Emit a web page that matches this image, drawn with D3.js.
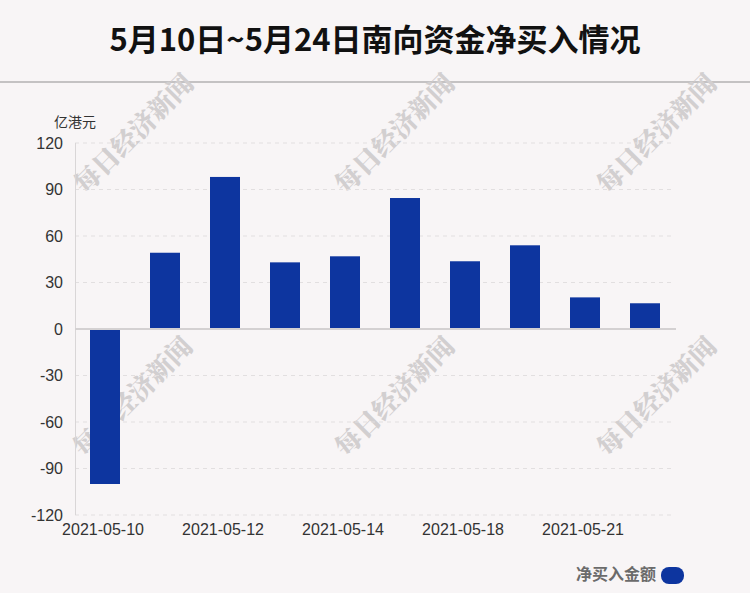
<!DOCTYPE html>
<html>
<head>
<meta charset="utf-8">
<script src="https://cdn.jsdelivr.net/npm/d3@7"></script>
<style>
  html, body { margin: 0; padding: 0; background: #f8f5f6; }
  svg { display: block; }
</style>
</head>
<body>
<svg id="chart" width="750" height="593"></svg>
<script>
const categories = ["2021-05-10","2021-05-11","2021-05-12","2021-05-13","2021-05-14","2021-05-17","2021-05-18","2021-05-20","2021-05-21","2021-05-24"];
const values = [-100.0, 49.2, 98.1, 43.0, 46.9, 84.5, 43.7, 54.0, 20.4, 16.6];
const yTicks = [-120, -90, -60, -30, 0, 30, 60, 90, 120];
const xLabels = ["2021-05-10","2021-05-12","2021-05-14","2021-05-18","2021-05-21"];
const title = "5月10日~5月24日南向资金净买入情况";
const unitLabel = "亿港元";
const legendLabel = "净买入金额";
const watermark = "每日经济新闻";

const W = 750, H = 593;
const svg = d3.select("#chart");

svg.append("rect").attr("width", W).attr("height", H).attr("fill", "#f8f5f6");

// title
svg.append("text")
  .attr("x", W / 2).attr("y", 51)
  .attr("text-anchor", "middle")
  .attr("font-family", "'Noto Sans CJK SC', 'Liberation Sans', sans-serif")
  .attr("font-weight", "bold")
  .attr("font-size", 31)
  .attr("fill", "#111")
  .text(title);

svg.append("line")
  .attr("x1", 0).attr("x2", W).attr("y1", 82).attr("y2", 82)
  .attr("stroke", "#c4c2c3").attr("stroke-width", 2);

const x = d3.scaleBand().domain(categories).range([75, 675]).paddingInner(0.5).paddingOuter(0.25);
const y = d3.scaleLinear().domain([-120, 120]).range([515, 143]);

// watermarks
const wmPos = [[132, 132], [393, 132], [655, 132], [131, 395], [393, 395], [655, 395]];
svg.append("g").selectAll("text").data(wmPos).join("text")
  .attr("transform", d => `translate(${d[0]},${d[1]}) rotate(-45)`)
  .attr("text-anchor", "middle")
  .attr("dominant-baseline", "central")
  .attr("font-family", "'Noto Serif CJK SC', 'Noto Sans CJK SC', serif")
  .attr("font-weight", "900")
  .attr("font-size", 26)
  .attr("fill", "#d2cfd0")
  .text(watermark);

// grid lines
svg.append("g").selectAll("line").data(yTicks.filter(t => t !== 0)).join("line")
  .attr("x1", 75).attr("x2", 671)
  .attr("y1", d => y(d)).attr("y2", d => y(d))
  .attr("stroke", "#e2dfe0").attr("stroke-width", 1)
  .attr("stroke-dasharray", "4,4");

// y axis line
svg.append("line")
  .attr("x1", 75.5).attr("x2", 75.5).attr("y1", y(120)).attr("y2", y(-120))
  .attr("stroke", "#d9d6d7").attr("stroke-width", 1);

// y tick labels
const yAxis = d3.axisLeft(y).tickValues(yTicks).tickSize(0).tickPadding(12).tickFormat(d => String(d));
const gy = svg.append("g").attr("transform", "translate(75,0)").call(yAxis);
gy.select(".domain").remove();
gy.selectAll("text")
  .attr("font-family", "'Liberation Sans', Arial, sans-serif")
  .attr("font-size", 16)
  .attr("fill", "#333");

// unit label
svg.append("text")
  .attr("x", 54).attr("y", 127)
  .attr("font-family", "'Noto Sans CJK SC', sans-serif")
  .attr("font-size", 14)
  .attr("fill", "#333")
  .text(unitLabel);

// bars
svg.append("g").selectAll("rect").data(categories).join("rect")
  .attr("x", d => x(d))
  .attr("width", x.bandwidth())
  .attr("y", (d, i) => Math.min(y(values[i]), y(0)))
  .attr("height", (d, i) => Math.abs(y(values[i]) - y(0)))
  .attr("fill", "#0d359f");

// zero line
svg.append("line")
  .attr("x1", 75).attr("x2", 676).attr("y1", y(0)).attr("y2", y(0))
  .attr("stroke", "#d4d1d2").attr("stroke-width", 2);

// x labels
const xAxis = d3.axisBottom(x).tickValues(xLabels).tickSize(0).tickPadding(9);
const gx = svg.append("g").attr("transform", `translate(-2,${y(-120)})`).call(xAxis);
gx.select(".domain").remove();
gx.selectAll("text")
  .attr("font-family", "'Liberation Sans', Arial, sans-serif")
  .attr("font-size", 16)
  .attr("fill", "#333");

// legend
svg.append("text")
  .attr("x", 656).attr("y", 580)
  .attr("text-anchor", "end")
  .attr("font-family", "'Noto Sans CJK SC', sans-serif")
  .attr("font-weight", "bold")
  .attr("font-size", 16)
  .attr("fill", "#6b6b6b")
  .text(legendLabel);
svg.append("rect")
  .attr("x", 661).attr("y", 567).attr("width", 23).attr("height", 17)
  .attr("rx", 8).attr("ry", 8)
  .attr("fill", "#0d359f");
</script>
</body>
</html>
